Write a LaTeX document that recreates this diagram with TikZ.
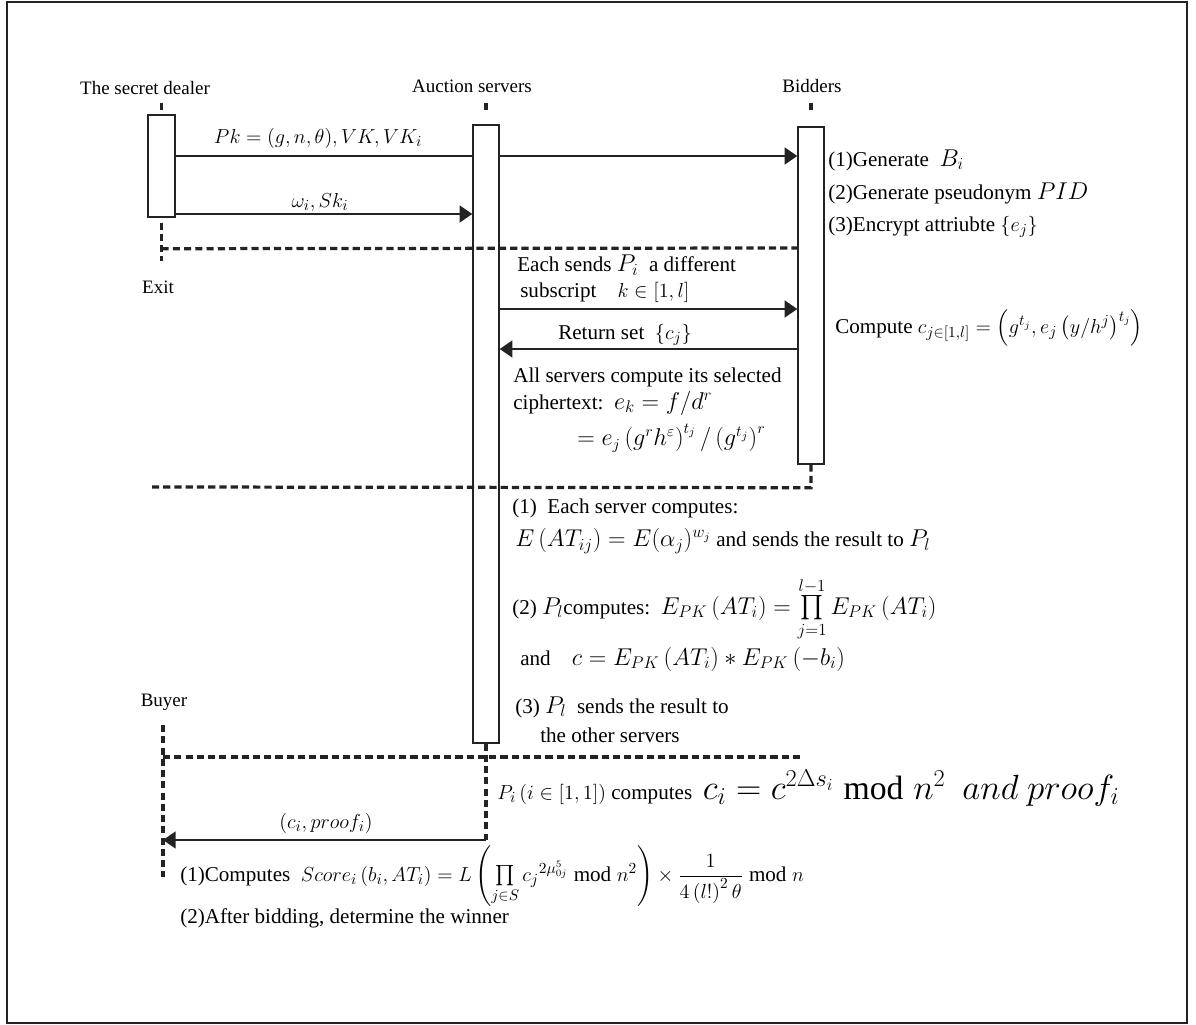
\documentclass[tikz,border=0pt]{standalone}
\usepackage{amsmath}
\usepackage{fontspec}
\setmainfont{Liberation Serif}
\usetikzlibrary{positioning,arrows.meta,fit}
\definecolor{linegray}{RGB}{35,35,35}
\newcommand\mathbig{\fontsize{18}{20}\selectfont}
\newcommand\mathmid{\fontsize{17}{20}\selectfont}
\newcommand\mathhuge{\fontsize{24}{28}\selectfont}

\begin{document}
\begin{tikzpicture}[
  x=0.025cm, y=-0.025cm,
  actor/.style={font=\fontsize{13.5}{16}\selectfont, inner sep=0pt},
  note/.style={anchor=west, font=\fontsize{15}{18}\selectfont, inner sep=0pt},
  actbox/.style={draw=linegray, line width=1pt, fill=white, inner sep=0pt},
  msg/.style={line width=1.4pt, draw=linegray},
  arr/.style={msg, -{Triangle[length=9pt,width=12pt]}},
  sep/.style={line width=2.3pt, dash pattern=on 5pt off 3pt, draw=linegray}
]
\useasboundingbox (0,0) rectangle (1196,1025);
\draw[line width=1.2pt, draw=linegray] (7,2) rectangle (1187,1023);

% participants
\node[actor] (dealerlbl) at (145,88) {The secret dealer};
\node[actor] (serverlbl) at (472,86) {Auction servers};
\node[actor] (bidderlbl) at (812,86) {Bidders};
\node[actor] (buyerlbl) at (164,702) {Buyer};
\node[actor] (exitlbl) at (158,287) {Exit};

\node[actbox, fit={(148,115) (175,217)}] (dealer) {};
\node[actbox, fit={(473,125) (499,743)}] (server) {};
\node[actbox, fit={(798,127) (824,464)}] (bidder) {};

% lifelines
\draw[sep] (dealer.north) ++(0,-11) -- (dealer.north);
\draw[sep] (server.north) ++(0,-21) -- ++(0,10);
\draw[sep] (bidder.north) ++(0,-23) -- ++(0,10);
\draw[sep] (dealer.south) ++(0,5) -- ++(0,38);
\draw[sep] (bidder.south) -- ++(0,23) -- (152,487);
\draw[sep] (dealer.south) ++(0,31) -- (bidder.west |- 0,248);
\coordinate (srvend) at (486,840);
\coordinate (buyertop) at (163,725);
\coordinate (buyerend) at (163,877);
\draw[sep] (server.south) -- (srvend);
\draw[sep] (buyertop) -- (buyerend);
\draw[sep] (buyertop |- 0,757) -- (802,757);

% messages
\node[note, anchor=center] (pk) at (318,138) {$Pk=(g,n,\theta),VK,VK_i$};
\draw[msg] (dealer.east |- 0,156) -- (server.west |- 0,156);
\draw[arr] (server.east |- 0,156) -- (bidder.west |- 0,156);
\node[note, anchor=center] (sk) at (320,202) {$\omega_i,Sk_i$};
\draw[arr] (dealer.east |- 0,214) -- (server.west |- 0,214);

\node[note] (gen1) at (828,160) {(1)Generate\enspace {\mathbig$B_i$}};
\node[note] (gen2) at (828,193) {(2)Generate pseudonym {\mathbig$PID$}};
\node[note] (gen3) at (828,227) {(3)Encrypt attriubte $\{e_j\}$};

\node[note] (sub1) at (517,265) {Each sends {\mathbig$P_i$}\enspace a different};
\node[note] (sub2) at (520,292) {subscript\quad $k\in[1,l]$};
\draw[arr] (server.east |- 0,309) -- (bidder.west |- 0,309);
\node[note] (ret) at (558,335) {Return set\enspace$\{c_j\}$};
\draw[arr] (bidder.west |- 0,349) -- (server.east |- 0,349);
\node[note] (comp) at (835,328) {Compute $c_{j\in[1,l]}=\left(g^{t_j},e_j\left(y/h^j\right)^{t_j}\right)$};

\node[note] (all1) at (513,377) {All servers compute its selected};
\node[note] (all2) at (513,403) {ciphertext:\enspace {\mathbig$e_k=f/d^r$}};
\node[note] (all3) at (577,438) {\fontsize{16}{18}\selectfont$=e_j\left(g^rh^\varepsilon\right)^{t_j}/\left(g^{t_j}\right)^r$};

% servers compute
\node[note] (st1) at (512,508) {(1)\enspace Each server computes:};
\node[note] (st2) at (515,541) {{\mathmid$E\left(AT_{ij}\right)=E(\alpha_j)^{w_j}$} and sends the result to {\mathbig$P_l$}};
\node[note] (st3) at (512,609) {(2) {\mathbig$P_l$}computes:\enspace {\mathmid$E_{PK}\left(AT_i\right)=\prod\limits_{j=1}^{l-1}E_{PK}\left(AT_i\right)$}};
\node[note] (st4) at (520,659) {and\quad {\mathmid$c=E_{PK}\left(AT_i\right)*E_{PK}\left(-b_i\right)$}};
\node[note] (st5) at (515,707) {(3) {\mathbig$P_l$}\enspace sends the result to};
\node[note] (st6) at (540,735) {the other servers};

\node[note] (share) at (497,788) {$P_i\left(i\in[1,1]\right)$ computes\enspace {\mathhuge$c_i=c^{2\Delta s_i}\bmod n^2$ \ $and\ proof_i$}};

% buyer
\node[note, anchor=center] (proof) at (326,823) {$(c_i,proof_i)$};
\draw[arr] (srvend) -- (buyertop |- srvend);
\node[note] (score) at (180,876) {(1)Computes\enspace $Score_i\left(b_i,AT_i\right)=L\left(\prod\limits_{j\in S}{c_j}^{2\mu_{0j}^5}\bmod n^2\right)\times\dfrac{1}{4\left(l!\right)^2\theta}\bmod n$};
\node[note] (win) at (180,918) {(2)After bidding, determine the winner};
\end{tikzpicture}
\end{document}
